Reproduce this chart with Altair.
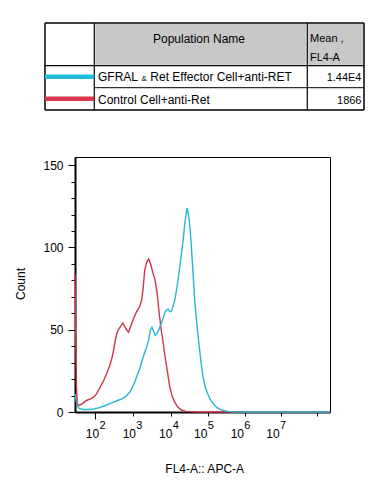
import math
import altair as alt
import pandas as pd

FONT = "Liberation Sans"

# ---- histogram data (x in log10 units of FL4-A, y = Count) ----
red_x = [1.489, 1.509, 1.527, 1.547, 1.577, 1.653, 1.780, 1.881, 1.957, 2.033, 2.109, 2.210,
         2.294, 2.362, 2.420, 2.463, 2.506, 2.547, 2.590, 2.641, 2.699, 2.742, 2.800, 2.843,
         2.894, 2.970, 3.046, 3.122, 3.172, 3.210, 3.248, 3.299, 3.349, 3.400, 3.451, 3.514,
         3.565, 3.615, 3.666, 3.711, 3.754, 3.805, 3.881, 3.944, 4.008, 4.084, 4.177, 4.286,
         4.514, 4.767, 7.932]
red_y = [84, 45, 15, 5, 4, 4.7, 7, 8, 9, 11, 14.4, 19,
         23.5, 28, 32.6, 37.5, 43.6, 47.8, 50.3, 52, 54, 52, 49.7, 48.5,
         52, 57, 61, 64, 68, 75, 86, 91, 93, 90, 85, 80,
         72, 60, 50, 43, 35, 27.5, 15.5, 9.5, 6, 3, 1.2, 0.4,
         0.1, 0, 0]

blue_x = [1.491, 1.514, 1.552, 1.603, 1.704, 1.830, 1.957, 2.084, 2.210, 2.337, 2.463, 2.565,
          2.673, 2.742, 2.800, 2.868, 2.927, 2.995, 3.053, 3.122, 3.180, 3.248, 3.306, 3.349,
          3.392, 3.433, 3.476, 3.514, 3.552, 3.590, 3.628, 3.678, 3.729, 3.767, 3.805, 3.843,
          3.881, 3.919, 3.957, 4.008, 4.046, 4.091, 4.134, 4.177, 4.218, 4.261, 4.294, 4.319,
          4.349, 4.387, 4.425, 4.471, 4.514, 4.557, 4.603, 4.641, 4.684, 4.724, 4.780, 4.851,
          4.919, 5.020, 5.096, 5.190, 5.316, 5.451, 5.654, 7.932]
blue_y = [11, 7, 3.5, 2, 1.5, 1.5, 1.8, 2.5, 3.5, 4.8, 6, 7,
          8, 9, 10, 12, 14.5, 18, 22, 26, 31, 36, 40, 44,
          49.5, 51.5, 49, 46.5, 47.5, 49, 51.5, 54.5, 58, 61, 62, 62.5,
          61, 61, 63.5, 68, 73, 80, 88, 96, 104, 114, 120, 124,
          121, 114, 102, 84, 68, 56, 45, 37, 28, 21, 15, 10.5,
          7, 4, 2.3, 1.2, 0.5, 0.1, 0, 0]

# ---- table / legend content ----
pop_names = ["GFRAL", "&", "Ret Effector Cell+anti-RET", "Control Cell+anti-Ret"]
mean_values = ["1.44E4", "1866"]
header_name = "Population Name"
header_mean = ["Mean ,", "FL4-A"]
series_colors = ["#29B6D2", "#D0344A"]
legend_colors = ["#22BCDC", "#D83A4C"]

# ---- axis ticks / labels ----
x_major = [2, 3, 4, 5, 6, 7]
x_label_pos = [1.932, 2.861, 3.780, 4.666, 5.590, 6.489]
x_label_exp = ["2", "3", "4", "5", "6", "7"]
x_domain = [1.489, 7.93]
y_domain = [0, 155]
y_ticks = list(range(0, 151, 10))
x_minor = [math.log10(k * 10 ** n) for n in range(2, 8) for k in range(2, 10)
           if math.log10(k * 10 ** n) <= x_domain[1]]
x_ticks = x_major + x_minor

W, H = 255, 255

red_df = pd.DataFrame({"x": red_x, "y": red_y})
blue_df = pd.DataFrame({"x": blue_x, "y": blue_y})

xscale = alt.Scale(domain=x_domain, nice=False, zero=False)
yscale = alt.Scale(domain=y_domain, nice=False, zero=False)

xaxis = alt.Axis(values=x_ticks, labels=False, title=None, grid=False,
                 domainColor="black", domainWidth=2, tickColor="black", tickWidth=1,
                 tickSize={"condition": {"test": "abs(datum.value - round(datum.value)) < 0.001", "value": 7}, "value": 4})
yaxis = alt.Axis(values=y_ticks, title=None, grid=False,
                 labelExpr="datum.value % 50 === 0 ? datum.label : ''",
                 labelFont=FONT, labelFontSize=12, labelColor="black", labelPadding=5,
                 domainColor="black", domainWidth=2, tickColor="black", tickWidth=1,
                 tickSize={"condition": {"test": "datum.value % 50 === 0", "value": 7}, "value": 4})

red_line = alt.Chart(red_df).mark_line(color=series_colors[1], strokeWidth=1.4).encode(
    x=alt.X("x:Q", scale=xscale, axis=xaxis),
    y=alt.Y("y:Q", scale=yscale, axis=yaxis),
)
blue_line = alt.Chart(blue_df).mark_line(color=series_colors[0], strokeWidth=1.4).encode(
    x=alt.X("x:Q", scale=xscale, axis=xaxis),
    y=alt.Y("y:Q", scale=yscale, axis=yaxis),
)

lab_df = pd.DataFrame({"pos": x_label_pos, "base": ["10"] * len(x_label_pos), "exp": x_label_exp})
lab_base = alt.Chart(lab_df).mark_text(align="center", baseline="alphabetic", fontSize=12,
                                       font=FONT, color="black").encode(
    x=alt.X("pos:Q", scale=xscale), y=alt.value(H + 26), text="base:N")
lab_exp = alt.Chart(lab_df).mark_text(align="left", baseline="alphabetic", fontSize=11, dx=7,
                                      font=FONT, color="black").encode(
    x=alt.X("pos:Q", scale=xscale), y=alt.value(H + 17), text="exp:N")

one = pd.DataFrame({"k": [0]})


def txt(s, x, y, size=12, align="left", angle=0):
    return alt.Chart(one).mark_text(text=s, align=align, baseline="alphabetic", fontSize=size,
                                    font=FONT, color="black", angle=angle).encode(
        x=alt.value(x), y=alt.value(y))


def rule(x1, x2, y1, y2, color="black", w=1.0):
    return alt.Chart(one).mark_rule(color=color, strokeWidth=w).encode(
        x=alt.value(x1), x2=alt.value(x2), y=alt.value(y1), y2=alt.value(y2))


def box(x1, x2, y1, y2, fill):
    return alt.Chart(one).mark_rect(fill=fill).encode(
        x=alt.value(x1), x2=alt.value(x2), y=alt.value(y1), y2=alt.value(y2))


# table geometry relative to plot origin
TL, TR, TT, TB = -30, 289, -134, -47
C1, C2 = 19.3, 232.3
R1, R2 = -91.3, -69.3

table = [
    box(C1 + 1, C2 - 1, TT + 1, R1 - 1, "#C8C8C8"),
    box(C2 + 1, TR - 1, TT + 1, R1 - 1, "#C8C8C8"),
    rule(TL, TR, TT, TT, w=1.5),
    rule(TL, TR, TB, TB, w=1.5),
    rule(TL, TL, TT, TB, w=1.5),
    rule(TR, TR, TT, TB, w=1.5),
    rule(TL, TR, R1, R1, w=1.2),
    rule(C1, TR, R2, R2, w=1.0),
    rule(C1, C1, TT, TB, w=1.2),
    rule(C2, C2, TT, TB, w=1.2),
    rule(TL, C1, -80.3, -80.3, color=legend_colors[0], w=4.5),
    rule(TL, C1, -58.2, -58.2, color=legend_colors[1], w=4.5),
    txt(header_name, 124, -114, 12, "center"),
    txt(header_mean[0], 235, -115.3, 11),
    txt(header_mean[1], 235, -96.3, 11),
    txt(pop_names[0], 23, -76.3, 12),
    txt(pop_names[1], 66.6, -76.3, 8),
    txt(pop_names[2], 75.3, -76.3, 12),
    txt(pop_names[3], 23, -53, 12),
    txt(mean_values[0], 286.5, -76.3, 11, "right"),
    txt(mean_values[1], 286.5, -53, 11, "right"),
    txt("FL4-A:: APC-A", 129.7, 316.3, 12, "center"),
    txt("Count", -50, 127, 12, "center", 270),
]

chart = alt.layer(red_line, blue_line, lab_base, lab_exp, *table).properties(
    width=W, height=H,
    autosize=alt.AutoSizeParams(type="none"),
    padding={"left": 67, "top": 149, "right": 40, "bottom": 75},
).configure_view(stroke="black", strokeWidth=1)

chart.save("out.html", embed_options={"renderer": "svg", "actions": False})
